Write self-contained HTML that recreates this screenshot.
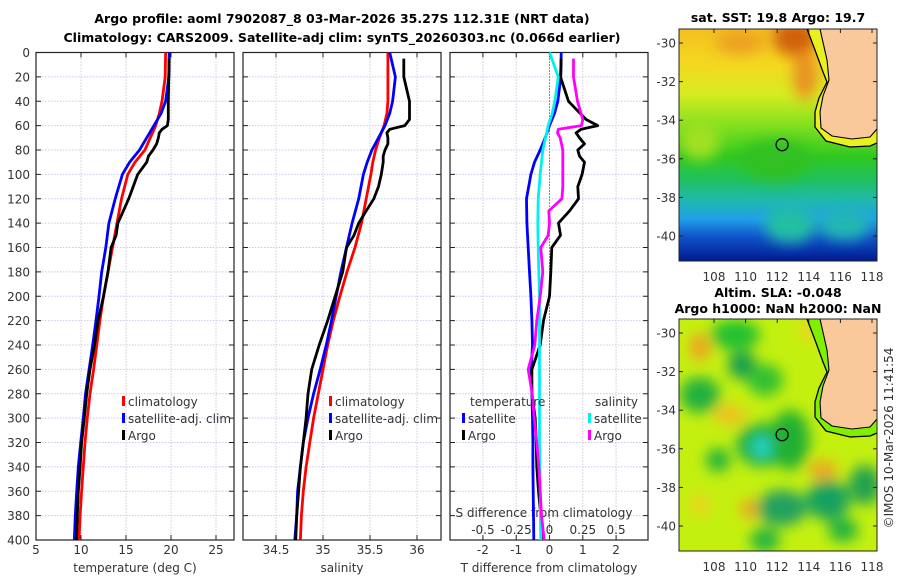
<!DOCTYPE html>
<html><head><meta charset="utf-8"><style>
body{margin:0;background:#fff}
svg{display:block;font-family:"DejaVu Sans","Liberation Sans",sans-serif}
.t{font-size:12px;fill:#333}
.b{font-weight:bold;font-size:12.5px;fill:#000}
</style></head><body>
<svg id="c" width="900" height="580" viewBox="0 0 900 580">
<defs>
<linearGradient id="sstg" x1="0" y1="0" x2="0" y2="1">
<stop offset="0" stop-color="#f4c020"/><stop offset="0.15" stop-color="#f4d820"/><stop offset="0.28" stop-color="#d8ec20"/><stop offset="0.42" stop-color="#80e020"/><stop offset="0.55" stop-color="#30c820"/><stop offset="0.65" stop-color="#20c060"/><stop offset="0.74" stop-color="#20b8b0"/><stop offset="0.82" stop-color="#20a0e8"/><stop offset="0.9" stop-color="#1050c8"/><stop offset="1" stop-color="#001a90"/>
</linearGradient>
<filter id="bl" x="-50%" y="-50%" width="200%" height="200%"><feGaussianBlur stdDeviation="7"/></filter>
<clipPath id="m1"><rect x="679" y="29" width="198" height="232"/></clipPath>
<clipPath id="m2"><rect x="679" y="319" width="198" height="232"/></clipPath>
</defs>
</svg>
<script>
// ---- data ----
const climDepth=[0,20,40,50,60,70,80,90,100,120,140,160,180,200,220,240,260,280,300,320,340,360,380,400];
const tempClim=[19.4,19.35,19.0,18.7,18.3,17.7,17.1,16.0,15.2,14.5,14.0,13.5,13.0,12.5,12.1,11.75,11.4,11.0,10.7,10.45,10.25,10.07,9.9,9.78];
const tempSat=[19.8,19.75,19.4,18.9,18.1,17.3,16.5,15.4,14.6,13.8,13.1,12.75,12.3,12.0,11.67,11.3,10.9,10.5,10.26,9.97,9.7,9.52,9.37,9.25];
const salClim=[35.69,35.69,35.69,35.68,35.65,35.60,35.56,35.53,35.51,35.46,35.41,35.34,35.255,35.18,35.11,35.05,35.0,34.95,34.9,34.86,34.82,34.79,34.77,34.76];
const salSat=[35.71,35.77,35.74,35.71,35.66,35.59,35.52,35.47,35.43,35.38,35.31,35.25,35.19,35.14,35.09,35.035,34.97,34.9,34.84,34.79,34.76,34.73,34.72,34.70];
const tDiffSat=[0.35,0.34,0.25,0.15,0.0,-0.13,-0.28,-0.45,-0.56,-0.69,-0.68,-0.64,-0.6,-0.56,-0.53,-0.51,-0.55,-0.53,-0.51,-0.5,-0.5,-0.49,-0.48,-0.47];
const sDiffSat=[0,0.066,0.04,0.02,-0.01,-0.03,-0.05,-0.06,-0.07,-0.085,-0.088,-0.085,-0.08,-0.075,-0.075,-0.075,-0.075,-0.075,-0.075,-0.075,-0.072,-0.07,-0.068,-0.065];
const argoDepth=[5,20,40,55,60,63,66,70,75,80,85,90,100,110,120,130,140,150,160,180,200,220,240,260,280,300,320,340,360,380,400];
const tempArgo=[19.8,19.75,19.7,19.7,19.6,19.0,18.7,18.6,18.4,18.0,17.5,17.3,16.3,15.8,15.3,14.7,14.1,13.9,13.35,13.0,12.5,11.9,11.5,11.0,10.63,10.37,10.07,9.9,9.7,9.59,9.5];
const salArgo=[35.86,35.86,35.92,35.92,35.87,35.71,35.68,35.69,35.69,35.66,35.64,35.64,35.62,35.59,35.54,35.46,35.38,35.33,35.25,35.21,35.13,35.05,34.96,34.88,34.84,34.82,34.79,34.76,34.74,34.72,34.71];
const tDiffArgo=[0.35,0.33,0.57,1.1,1.45,0.95,0.8,0.9,1.05,0.85,0.9,1.05,0.98,0.85,0.87,0.6,0.27,0.33,0.07,0.04,0,-0.18,-0.28,-0.53,-0.53,-0.43,-0.4,-0.38,-0.33,-0.26,-0.2];
const sDiffArgo=[0.18,0.18,0.21,0.25,0.24,0.066,0.06,0.08,0.09,0.1,0.1,0.1,0.1,0.1,0.093,-0.005,0,-0.01,-0.065,-0.05,-0.07,-0.095,-0.11,-0.16,-0.13,-0.115,-0.095,-0.08,-0.07,-0.06,-0.04];
const depthTicks=[0,20,40,60,80,100,120,140,160,180,200,220,240,260,280,300,320,340,360,380,400];
const tempTicks=[5,10,15,20,25];
const salTicks=[34.5,35,35.5,36];
const tDiffTicks=[-2,-1,0,1,2];
const sDiffTicks=[-0.5,-0.25,0,0.25,0.5];
const latTicks=[-30,-32,-34,-36,-38,-40];
const lonTicks=[108,110,112,114,116,118];

// ---- scales ----
const TOP=52.5,BOT=540;
const yD=d=>TOP+d*(BOT-TOP)/400;
const xT=t=>36+(t-5)*9.0;
const xS=s=>276+(s-34.5)*94;
const xTD=v=>549.5+v*33.3;
const xSD=v=>549.5+v*4*33.3;
const P=[{x:36,name:'temperature-panel'},{x:243,name:'salinity-panel'},{x:450,name:'difference-panel'}];
const W=198;
const svg=document.getElementById('c');
const NS='http://www.w3.org/2000/svg';
function mk(tag,attrs,parent){const e=document.createElementNS(NS,tag);for(const k in attrs)e.setAttribute(k,attrs[k]);(parent||svg).appendChild(e);return e;}
function txt(x,y,s,cls,anchor){const e=mk('text',{x:x,y:y,class:cls||'t','text-anchor':anchor||'middle'});e.textContent=s;return e;}

P.forEach((p,i)=>{
  const g=mk('g',{});
  
  
  const xt=i==0?tempTicks.map(xT):i==1?salTicks.map(xS):tDiffTicks.map(xTD);
  depthTicks.forEach(d=>{
    mk('line',{x1:p.x,x2:p.x+W,y1:yD(d),y2:yD(d),stroke:'#c4cbe8','stroke-dasharray':'1.5,1.5','stroke-width':1},g);
    mk('line',{x1:p.x,x2:p.x+5,y1:yD(d),y2:yD(d),stroke:'#222'},g);
    mk('line',{x1:p.x+W-5,x2:p.x+W,y1:yD(d),y2:yD(d),stroke:'#222'},g);
  });
  xt.forEach(x=>{
    mk('line',{x1:x,x2:x,y1:TOP,y2:BOT,stroke:'#d0c8e0','stroke-dasharray':'1.5,1.5'},g);
    mk('line',{x1:x,x2:x,y1:BOT,y2:BOT-5,stroke:'#222'},g);
    mk('line',{x1:x,x2:x,y1:TOP,y2:TOP+5,stroke:'#222'},g);
  });
  mk('rect',{x:p.x,y:TOP,width:W,height:BOT-TOP,fill:'none',stroke:'#222','stroke-width':1.2},g);
});
depthTicks.forEach(d=>{const e=txt(30,yD(d)+4.5,String(d),'t','end');});
tempTicks.forEach(v=>{const e=txt(xT(v),554,String(v));});
salTicks.forEach(v=>{const e=txt(xS(v),554,String(v));});
tDiffTicks.forEach(v=>{const e=txt(xTD(v),554,String(v));});
sDiffTicks.forEach(v=>{const e=txt(xSD(v),534,String(v));});
let e;
e=txt(135,572,'temperature (deg C)');
e=txt(342,572,'salinity');
e=txt(549,572,'T difference from climatology');
e=txt(544,517,'S difference from climatology');
e=txt(342,23,'Argo profile: aoml 7902087_8 03-Mar-2026 35.27S 112.31E (NRT data)','b');
e=txt(342,42,'Climatology: CARS2009. Satellite-adj clim: synTS_20260303.nc (0.066d earlier)','b');
e=mk('line',{x1:xTD(0),x2:xTD(0),y1:TOP,y2:BOT,stroke:'#333','stroke-dasharray':'1,2'});



function series(xs,ds,fx,color,name){
  const pts=xs.map((v,i)=>fx(v).toFixed(1)+','+yD(ds[i]).toFixed(1)).join(' ');
  const el=mk('polyline',{points:pts,fill:'none',stroke:color,'stroke-width':2.8,'stroke-linejoin':'round'});
  
  
}
series(tempClim,climDepth,xT,'#ff0000','temperature-climatology-line');
series(tempSat,climDepth,xT,'#0000ff','temperature-satellite-line');
series(tempArgo,argoDepth,xT,'#000000','temperature-argo-line');
series(salClim,climDepth,xS,'#ff0000','salinity-climatology-line');
series(salSat,climDepth,xS,'#0000ff','salinity-satellite-line');
series(salArgo,argoDepth,xS,'#000000','salinity-argo-line');
series(tDiffSat,climDepth,xTD,'#0000ff','t-diff-satellite-line');
series(tDiffArgo,argoDepth,xTD,'#000000','t-diff-argo-line');
series(sDiffSat,climDepth,xSD,'#00f0f0','s-diff-satellite-line');
series(sDiffArgo,argoDepth,xSD,'#ff00ff','s-diff-argo-line');

function legend(x,y,color,label){
  const g=mk('g',{});
  
  
  mk('rect',{x:x,y:y-10,width:3,height:10,fill:color},g);
  const t=mk('text',{x:x+6,y:y,class:'t','font-size':'12.5'},g);t.textContent=label;
}
[[0,'#ff0000','climatology'],[1,'#0000ff','satellite-adj. clim'],[2,'#000','Argo']].forEach(r=>{
  legend(122,406+r[0]*17,r[1],r[2]);legend(329,406+r[0]*17,r[1],r[2]);
});
e=txt(470,406,'temperature','t','start');
e=txt(595,406,'salinity','t','start');
legend(462,423,'#0000ff','satellite');legend(462,440,'#000','Argo');
legend(588,423,'#00f0f0','satellite');legend(588,440,'#ff00ff','Argo');

// ---- maps ----
const latY1=l=>43+(-30-l)*19.3;
const lonX=l=>714+(l-108)*15.8;
function mapAxes(off,name){
  const g=mk('g',{});
  
  
  latTicks.forEach(l=>{const y=latY1(l)+off;mk('line',{x1:679,x2:683,y1:y,y2:y,stroke:'#222'},g);mk('line',{x1:873,x2:877,y1:y,y2:y,stroke:'#222'},g);const t=mk('text',{x:676,y:y+4.5,class:'t','text-anchor':'end'},g);t.textContent=String(l);});
  lonTicks.forEach(l=>{const x=lonX(l);mk('line',{x1:x,x2:x,y1:off+29,y2:off+33,stroke:'#222'},g);const t=mk('text',{x:x,y:off+281,class:'t','text-anchor':'middle'},g);t.textContent=String(l);});
}
function coast(off,g,shelf){
  mk('path',{d:`M820 ${29+off} L827 ${60+off} L829 ${80+off} L823 ${96+off} L820 ${112+off} L821 ${128+off} L832 ${136+off} L852 ${139+off} L870 ${137+off} L877 ${129+off} L877 ${29+off} Z`,fill:'#f9c89b'},g);
  mk('path',{d:`M807 ${29+off} L815 ${50+off} L823 ${72+off} L827 ${82+off} L819 ${98+off} L815 ${112+off} L815 ${127+off} L826 ${141+off} L850 ${147+off} L870 ${146+off} L877 ${143+off} L877 ${129+off} L870 ${137+off} L852 ${139+off} L832 ${136+off} L821 ${128+off} L820 ${112+off} L823 ${96+off} L829 ${80+off} L827 ${60+off} L820 ${29+off} Z`,fill:shelf},g);
  mk('path',{d:`M807 ${29+off} L815 ${50+off} L823 ${72+off} L827 ${82+off} L819 ${98+off} L815 ${112+off} L815 ${127+off} L826 ${141+off} L850 ${147+off} L870 ${146+off} L877 ${143+off}`,fill:'none',stroke:'#000','stroke-width':1.3},g);
  mk('path',{d:`M820 ${29+off} L827 ${60+off} L829 ${80+off} L823 ${96+off} L820 ${112+off} L821 ${128+off} L832 ${136+off} L852 ${139+off} L870 ${137+off} L877 ${129+off}`,fill:'none',stroke:'#000','stroke-width':1.1},g);
}
const m1=mk('g',{'clip-path':'url(#m1)'});


mk('rect',{x:679,y:29,width:198,height:232,fill:'url(#sstg)'},m1);
const b1=mk('g',{filter:'url(#bl)'},m1);
mk('ellipse',{cx:795,cy:38,rx:22,ry:18,fill:'#d06010'},b1);
mk('ellipse',{cx:805,cy:75,rx:12,ry:25,fill:'#e89020'},b1);
mk('ellipse',{cx:740,cy:42,rx:25,ry:12,fill:'#eca020'},b1);
mk('ellipse',{cx:775,cy:160,rx:35,ry:20,fill:'#30c020'},b1);
mk('ellipse',{cx:790,cy:225,rx:25,ry:18,fill:'#20c0a0'},b1);
mk('ellipse',{cx:845,cy:225,rx:25,ry:15,fill:'#20b8b0'},b1);
mk('ellipse',{cx:700,cy:140,rx:20,ry:20,fill:'#a0e020'},b1);
coast(0,m1,'#e8f020');
e=mk('circle',{cx:lonX(112.31),cy:latY1(-35.27),r:6,fill:'none',stroke:'#000','stroke-width':1.3});


mk('rect',{x:679,y:29,width:198,height:232,fill:'none',stroke:'#222'});
mapAxes(0,'sst-map');
e=txt(778,22,'sat. SST: 19.8 Argo: 19.7','b');
const m2=mk('g',{'clip-path':'url(#m2)'});


mk('rect',{x:679,y:319,width:198,height:232,fill:'#c4f010'},m2);
const b2=mk('g',{filter:'url(#bl)'},m2);
[[735,335,25,15,'#20c030'],[742,365,14,14,'#189c50'],[700,395,20,18,'#20b040'],[765,380,18,16,'#30c030'],[762,445,26,22,'#20b040'],[762,447,10,10,'#20d8d0'],[790,440,20,30,'#20b030'],[718,460,12,12,'#20b040'],[782,508,25,18,'#20a060'],[828,500,22,20,'#18a060'],[865,485,16,20,'#20a050'],[765,540,15,12,'#20b040'],[860,345,25,25,'#40c030'],[843,530,15,12,'#20b040']].forEach(c=>mk('ellipse',{cx:c[0],cy:c[1],rx:c[2],ry:c[3],fill:c[4]},b2));
[[700,347,10,14,'#f0a020'],[730,415,16,10,'#f0c020'],[749,509,8,10,'#f0a020'],[823,470,14,9,'#f0a020'],[700,505,10,10,'#f0d020'],[810,330,10,10,'#f0d020']].forEach(c=>mk('ellipse',{cx:c[0],cy:c[1],rx:c[2],ry:c[3],fill:c[4]},b2));
coast(290,m2,'#80f000');
e=mk('circle',{cx:lonX(112.31),cy:latY1(-35.27)+290,r:6,fill:'none',stroke:'#000','stroke-width':1.3});


mk('rect',{x:679,y:319,width:198,height:232,fill:'none',stroke:'#222'});
mapAxes(290,'sla-map');
e=txt(778,297,'Altim. SLA: -0.048','b');
e=txt(778,313,'Argo h1000: NaN h2000: NaN','b');
e=mk('text',{x:0,y:0,class:'t','text-anchor':'middle',transform:'translate(893,438) rotate(-90)'});
e.textContent='©IMOS 10-Mar-2026 11:41:54';


</script>
</body></html>
